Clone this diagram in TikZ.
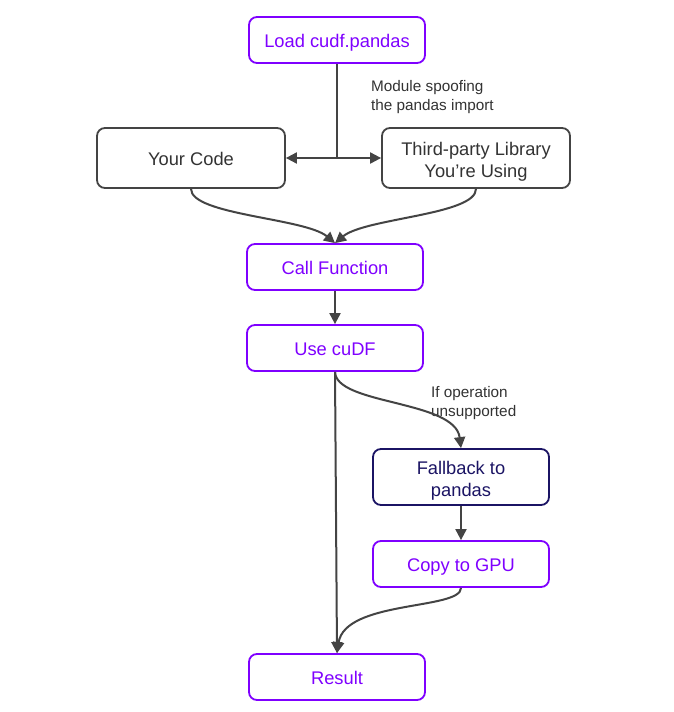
\documentclass[tikz,border=0pt]{standalone}
\usepackage{fontspec}
\setmainfont{Liberation Sans}
\usetikzlibrary{arrows.meta}
\definecolor{cpurple}{HTML}{7F00FF}
\definecolor{cnavy}{HTML}{1B1464}
\definecolor{cgray}{HTML}{444444}
\definecolor{ctext}{HTML}{333333}
\tikzset{
  basebox/.style={draw, line width=1.8pt, rounded corners=8pt, align=center, inner sep=0pt,
    font=\fontsize{18.3}{22}\selectfont, text height=18.5pt, text depth=4pt},
  twoline/.style={text height=41pt, text depth=2pt},
  pbox/.style={basebox, draw=cpurple, text=cpurple, minimum width=176pt, minimum height=46pt},
  gbox/.style={basebox, draw=cgray, text=ctext, minimum width=188pt, minimum height=60pt},
  nbox/.style={basebox, draw=cnavy, text=cnavy, minimum width=176pt, minimum height=56pt},
  lbl/.style={align=left, anchor=north west, text=ctext, inner sep=0pt, font=\fontsize{15.3}{19}\selectfont},
  conn/.style={draw=cgray, line width=2pt, -{Triangle[length=11pt,width=11pt]}},
  line/.style={draw=cgray, line width=2pt}
}
\begin{document}
\begin{tikzpicture}[x=1pt,y=-1pt]
\useasboundingbox[fill=white] (0,0) rectangle (673,712);
\node[pbox] (load) at (337,40) {Load cudf.pandas};
\node[gbox] (code) at (191,158) {Your Code};
\node[gbox, twoline] (third) at (476,158) {Third-party Library\\You’re Using};
\node[pbox] (call) at (335,267) {Call Function};
\node[pbox] (use) at (335,348) {Use cuDF};
\node[nbox, twoline] (fall) at (461,477) {Fallback to\\pandas};
\node[pbox] (copy) at (461,564) {Copy to GPU};
\node[pbox] (res) at (337,677) {Result};

\node[lbl] (l1) at (371,80) {Module spoofing\\the pandas import};
\node[lbl] (l2) at (431,386) {If operation\\unsupported};

\coordinate (mid) at (load.south |- code.east);
\draw[line] (load.south) -- (mid);
\draw[conn] (mid) -- (code.east);
\draw[conn] (mid) -- (third.west);

\draw[conn] (code.south) .. controls (191,215) and (305,218) .. (call.north);
\draw[conn] (third.south) .. controls (476,215) and (365,218) .. (call.north);
\draw[conn] (call.south) -- (use.north);
\draw[conn] (use.south) -- (res.north);
\draw[conn] (use.south) .. controls (336,405) and (455,400) .. (fall.north);
\draw[conn] (fall.south) -- (copy.north);
\draw[conn] (copy.south) .. controls (461,610) and (345,600) .. (res.north);
\end{tikzpicture}
\end{document}
